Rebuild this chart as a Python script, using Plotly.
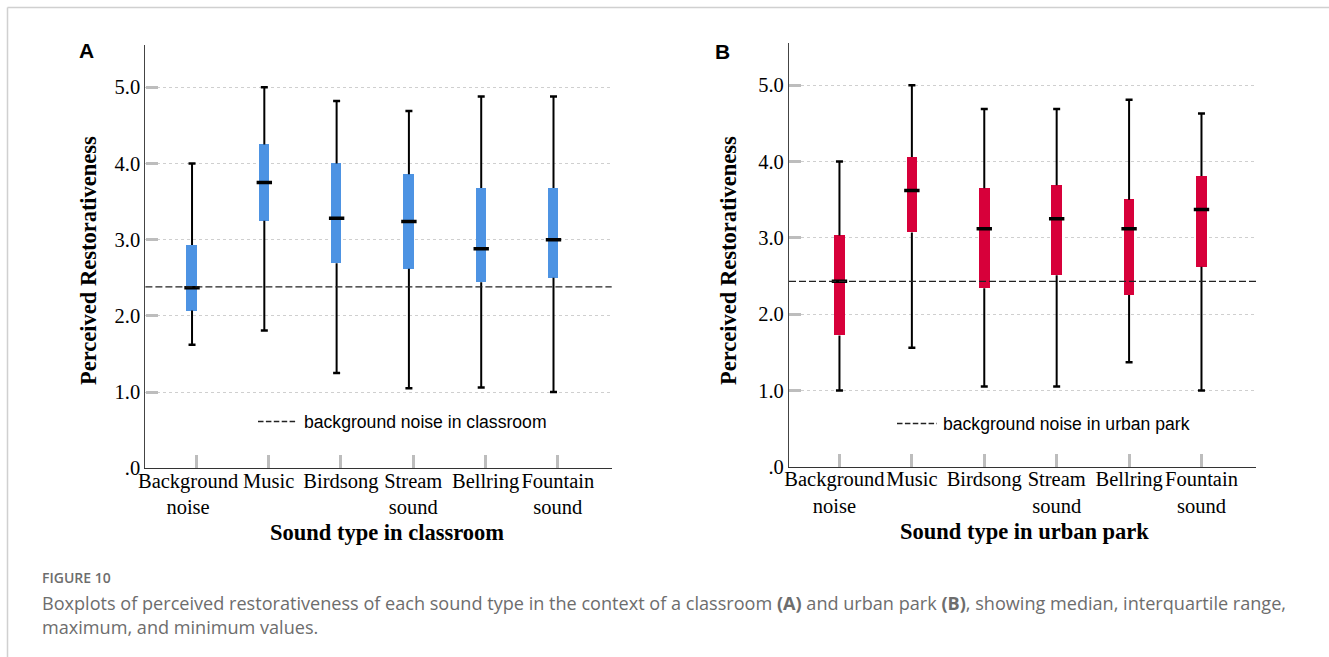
import plotly.graph_objects as go

W, H = 1329, 657

# ---------------- data ----------------
categories = ["Background<br>noise", "Music", "Birdsong", "Stream<br>sound", "Bellring", "Fountain<br>sound"]

# Panel A: classroom
a_min = [1.62, 1.81, 1.25, 1.05, 1.06, 1.00]
a_q1 = [2.07, 3.25, 2.69, 2.62, 2.44, 2.50]
a_med = [2.37, 3.75, 3.28, 3.24, 2.88, 3.00]
a_q3 = [2.93, 4.25, 4.00, 3.86, 3.68, 3.68]
a_max = [4.00, 5.00, 4.82, 4.69, 4.88, 4.88]
a_ref = 2.38

# Panel B: urban park
b_min = [1.00, 1.56, 1.05, 1.05, 1.37, 1.00]
b_q1 = [1.72, 3.07, 2.34, 2.51, 2.25, 2.62]
b_med = [2.43, 3.62, 3.12, 3.25, 3.12, 3.37]
b_q3 = [3.03, 4.06, 3.65, 3.69, 3.50, 3.81]
b_max = [4.00, 5.00, 4.69, 4.69, 4.81, 4.63]
b_ref = 2.43

y_tickvals = [0, 1, 2, 3, 4, 5]
y_ticktext = [".0", "1.0", "2.0", "3.0", "4.0", "5.0"]

BLUE = "#4d93e3"
RED = "#d7003a"


def px(x):
    return x / W


def py(y):
    return 1 - y / H


fig = go.Figure()


def add_panel(xa, ya, mins, q1, med, q3, mx, color):
    xs = list(range(len(categories)))
    # whiskers (outside the box)
    wx, wy = [], []
    for i in xs:
        wx += [i, i, None, i, i, None]
        wy += [q3[i], mx[i], None, mins[i], q1[i], None]
    fig.add_trace(go.Scatter(x=wx, y=wy, mode="lines", line=dict(color="black", width=2),
                             xaxis=xa, yaxis=ya, showlegend=False, hoverinfo="skip"))
    # caps
    fig.add_trace(go.Scatter(x=xs + xs, y=mins + mx, mode="markers",
                             marker=dict(symbol="line-ew", size=5, line=dict(color="black", width=2.5)),
                             xaxis=xa, yaxis=ya, showlegend=False, hoverinfo="skip"))
    # boxes
    fig.add_trace(go.Bar(x=xs, y=[q3[i] - q1[i] for i in xs], base=q1, width=0.145,
                         marker=dict(color=color, line=dict(width=0)),
                         xaxis=xa, yaxis=ya, showlegend=False))
    # medians
    fig.add_trace(go.Scatter(x=xs, y=med, mode="markers",
                             marker=dict(symbol="line-ew", size=11, line=dict(color="black", width=3.5)),
                             xaxis=xa, yaxis=ya, showlegend=False, hoverinfo="skip"))


add_panel("x", "y", a_min, a_q1, a_med, a_q3, a_max, BLUE)
add_panel("x2", "y2", b_min, b_q1, b_med, b_q3, b_max, RED)
# empty traces that register the label-only overlay axes
fig.add_trace(go.Scatter(x=[], y=[], xaxis="x3", yaxis="y", showlegend=False))
fig.add_trace(go.Scatter(x=[], y=[], xaxis="x4", yaxis="y2", showlegend=False))

serif = "Liberation Serif"
sans = "Liberation Sans"

n = len(categories)
# tick-mark positions (panel A ticks sit slightly right of the boxes, as in the original)
a_ticks = [i + 0.06 for i in range(n)]
b_ticks = [float(i) for i in range(n)]
# label positions (the first label is nudged left, as in the original)
a_labels = [a_ticks[0] - 0.115] + a_ticks[1:]
b_labels = [b_ticks[0] - 0.07] + b_ticks[1:]

tickaxis = dict(showgrid=False, zeroline=False, showline=True, linecolor="#333", linewidth=1.2,
                ticks="inside", ticklen=13, tickwidth=3, tickcolor="#bdbdbd",
                automargin=False, showticklabels=False, tickmode="array")
labelaxis = dict(showgrid=False, zeroline=False, showline=False, ticks="", tickangle=0,
                 automargin=False, ticklabelstandoff=-2,
                 tickfont=dict(family=serif, size=20.5, color="black"), tickmode="array")
ycommon = dict(showgrid=True, gridcolor="#cfcfcf", griddash="dot", gridwidth=1, zeroline=False,
               showline=True, linecolor="#444", linewidth=1.2, automargin=False,
               ticks="inside", ticklen=12, tickwidth=3, tickcolor="#bdbdbd",
               tickfont=dict(family=serif, size=20.5, color="black"),
               tickmode="array", tickvals=y_tickvals, ticktext=y_ticktext)

a_dom = [px(145.4), px(611.7)]
a_rng = [-0.645, 5.805]
b_dom = [px(789), px(1256)]
b_rng = [-0.697, 5.753]

fig.update_layout(
    width=W, height=H, margin=dict(l=0, r=0, t=0, b=0, autoexpand=False),
    paper_bgcolor="white", plot_bgcolor="white", bargap=0, barmode="overlay",
    xaxis=dict(tickaxis, domain=a_dom, range=a_rng, tickvals=a_ticks, anchor="y"),
    xaxis3=dict(labelaxis, domain=a_dom, range=a_rng, tickvals=a_labels, ticktext=categories,
                anchor="y", overlaying="x"),
    yaxis=dict(ycommon, domain=[py(468.3), py(45)], range=[0, 5.555], anchor="x"),
    xaxis2=dict(tickaxis, domain=b_dom, range=b_rng, tickvals=b_ticks, anchor="y2"),
    xaxis4=dict(labelaxis, domain=b_dom, range=b_rng, tickvals=b_labels, ticktext=categories,
                anchor="y2", overlaying="x2"),
    yaxis2=dict(ycommon, domain=[py(466.7), py(43.3)], range=[0, 5.55], anchor="x2"),
)

shapes = [
    dict(type="line", xref="x domain", yref="y", x0=0, x1=1, y0=a_ref, y1=a_ref,
         line=dict(color="#222", width=1.3, dash="7px,3px")),
    dict(type="line", xref="x2 domain", yref="y2", x0=0, x1=1, y0=b_ref, y1=b_ref,
         line=dict(color="#222", width=1.3, dash="7px,3px")),
    # legend keys
    dict(type="line", xref="paper", yref="paper", x0=px(258), x1=px(297), y0=py(421.5), y1=py(421.5),
         line=dict(color="#222", width=1.4, dash="5.5px,2.4px")),
    dict(type="line", xref="paper", yref="paper", x0=px(897), x1=px(937), y0=py(423.5), y1=py(423.5),
         line=dict(color="#222", width=1.4, dash="5.5px,2.4px")),
    # page frame
    dict(type="line", xref="paper", yref="paper", x0=px(7.5), x1=1, y0=py(7.5), y1=py(7.5),
         line=dict(color="#d0d0d0", width=1.5)),
    dict(type="line", xref="paper", yref="paper", x0=px(7.5), x1=px(7.5), y0=py(7.5), y1=0,
         line=dict(color="#d0d0d0", width=1.5)),
]
fig.update_layout(shapes=shapes)


def ann(text, x, y, size, family, color="black", xanchor="center", angle=0, bold=False):
    return dict(text=("<b>%s</b>" % text) if bold else text, x=px(x), y=py(y), xref="paper", yref="paper",
                showarrow=False, xanchor=xanchor, yanchor="middle", textangle=angle,
                font=dict(family=family, size=size, color=color))


cap_color = "#6d6d6d"
annotations = [
    ann("A", 86.5, 51, 21, sans, bold=True),
    ann("B", 722.5, 51.5, 21, sans, bold=True),
    ann("Perceived Restorativeness", 88, 261, 22.5, serif, angle=-90, bold=True),
    ann("Perceived Restorativeness", 728, 260, 22.5, serif, angle=-90, bold=True),
    ann("Sound type in classroom", 387, 532, 22.5, serif, bold=True),
    ann("Sound type in urban park", 1024, 531, 22.5, serif, bold=True),
    ann("background noise in classroom", 302, 421.5, 17.6, sans, xanchor="left"),
    ann("background noise in urban park", 941, 423.5, 17.6, sans, xanchor="left"),
    dict(text="FIGURE 10", x=px(40), y=py(577), xref="paper", yref="paper", showarrow=False,
         xanchor="left", yanchor="middle", font=dict(family="Open Sans", size=14, color=cap_color, weight=600)),
    ann("Boxplots of perceived restorativeness of each sound type in the context of a classroom <b>(A)</b> and urban park <b>(B)</b>, showing median, interquartile range,",
        40, 603, 18.1, "Open Sans", color=cap_color, xanchor="left"),
    ann("maximum, and minimum values.", 40, 627, 18.1, "Open Sans", color=cap_color, xanchor="left"),
]
fig.update_layout(annotations=annotations)

fig.write_html("out.html")
